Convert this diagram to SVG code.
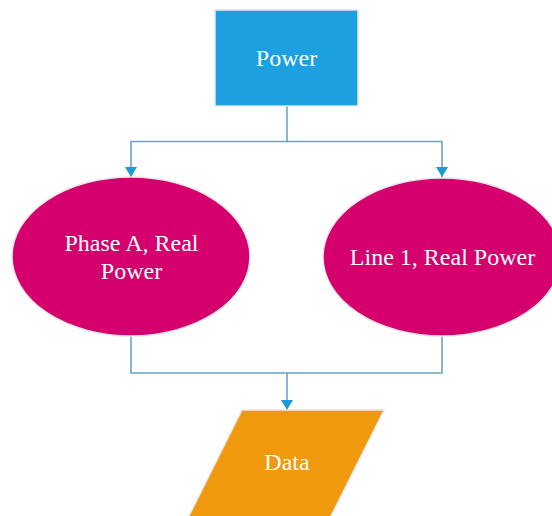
<svg xmlns="http://www.w3.org/2000/svg" width="552" height="516" viewBox="0 0 552 516">
  <style>
    .label { font-family: "Liberation Serif", "Times New Roman", serif; font-size: 24px; fill: #ffffff; text-anchor: middle; }
    .edge { fill: none; stroke: #68a5c9; stroke-width: 1.6; }
    .outline { stroke: #e6e6e6; stroke-width: 1.5; }
  </style>
  <defs>
    <marker id="arrow" viewBox="0 0 10 12" refX="10" refY="6" markerWidth="10" markerHeight="12" markerUnits="userSpaceOnUse" orient="auto">
      <path d="M0,0 L10,6 L0,12 Z" fill="#1b9ad6"/>
    </marker>
  </defs>
  <rect width="552" height="516" fill="#ffffff"/>

  <g id="connectors">
    <path class="edge" d="M287,106 V141.5 H131 V177" marker-end="url(#arrow)"/>
    <path class="edge" d="M287,141.5 H442 V177" marker-end="url(#arrow)"/>
    <path class="edge" d="M131,336 V373 H442 V336"/>
    <path class="edge" d="M287,373 V410" marker-end="url(#arrow)"/>
  </g>

  <g id="power">
    <rect class="outline" x="215" y="10" width="143" height="96" fill="#1ca0e0"/>
    <text class="label" x="286.5" y="66">Power</text>
  </g>

  <g id="phase-a">
    <ellipse class="outline" cx="131" cy="256.5" rx="119" ry="79.5" fill="#d5006e"/>
    <text class="label" x="131.5" y="251">Phase A, Real</text>
    <text class="label" x="131.5" y="279">Power</text>
  </g>

  <g id="line-1">
    <ellipse class="outline" cx="442" cy="257" rx="119" ry="79" fill="#d5006e"/>
    <text class="label" x="442.5" y="265">Line 1, Real Power</text>
  </g>

  <g id="data">
    <polygon class="outline" points="242,410 384,410 326,526 184,526" fill="#f0990c"/>
    <text class="label" x="287" y="470">Data</text>
  </g>
</svg>
